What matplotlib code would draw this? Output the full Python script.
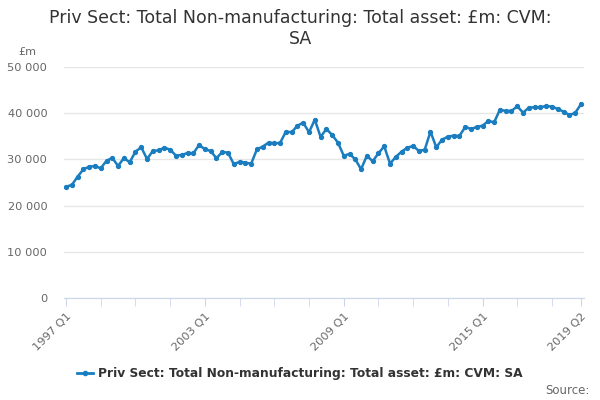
import numpy as np
import matplotlib.pyplot as plt
from matplotlib.ticker import FuncFormatter
from matplotlib.lines import Line2D

quarters = [f"{1997 + i // 4} Q{i % 4 + 1}" for i in range(90)]
values = [24100, 24460, 26260, 27860, 28430, 28580, 28070, 29730, 30310, 28580,
          30310, 29370, 31680, 32620, 30090, 31820, 31970, 32540, 32110, 30810,
          30960, 31390, 31320, 33120, 32190, 31820, 30240, 31610, 31460, 28940,
          29510, 29290, 29080, 32190, 32760, 33630, 33490, 33560, 36010, 35870,
          37300, 37950, 35870, 38600, 34860, 36590, 35290, 33630, 30810, 31180,
          30020, 27860, 30810, 29590, 31320, 32840, 29080, 30530, 31680, 32540,
          32910, 31820, 32110, 36010, 32620, 34270, 34930, 35140, 35070, 37020,
          36590, 37020, 37300, 38320, 38030, 40770, 40490, 40490, 41500, 40120,
          41200, 41280, 41280, 41570, 41420, 40920, 40340, 39620, 40050, 41930]
label_quarters = ["1997 Q1", "2003 Q1", "2009 Q1", "2015 Q1", "2019 Q2"]
series_name = "Priv Sect: Total Non-manufacturing: Total asset: £m: CVM: SA"

color = "#1a7dc0"
x = np.arange(len(values))

fig = plt.figure(figsize=(6, 4), dpi=100)
ax = fig.add_axes([0.1067, 0.255, 0.8663, 0.5775])
ax.plot(x, values, color=color, lw=1.8, marker="o", ms=2.8)

ax.set_xlim(-0.35, 89.5)
ax.set_ylim(0, 50000)
ax.set_yticks(range(0, 50001, 10000))
ax.yaxis.set_major_formatter(FuncFormatter(lambda v, p: f"{int(v):,}".replace(",", " ")))
ax.grid(axis="y", color="#e6e6e6", lw=1)
ax.set_axisbelow(True)

minor = list(range(0, 90, 6)) + [89]
ax.set_xticks(minor, minor=True)
ax.set_xticks([quarters.index(q) for q in label_quarters])
ax.set_xticklabels(label_quarters, rotation=45, ha="right", rotation_mode="anchor")
ax.tick_params(axis="x", which="both", length=6, color="#ccd6eb", labelcolor="#666666", labelsize=8.2)
ax.tick_params(axis="y", length=0, labelcolor="#666666", labelsize=8.2, pad=12)

for s in ["top", "right", "left"]:
    ax.spines[s].set_visible(False)
ax.spines["bottom"].set_color("#ccd6eb")

fig.text(0.5, 0.978, "Priv Sect: Total Non-manufacturing: Total asset: £m: CVM:\nSA",
         ha="center", va="top", fontsize=12.5, color="#333333", linespacing=1.2)
fig.text(0.03, 0.87, "£m", fontsize=8, color="#666666", va="center")

handle = Line2D([], [], color=color, lw=2, marker="o", ms=3)
fig.legend([handle], [series_name], loc="center", bbox_to_anchor=(0.5, 0.065),
           frameon=False, prop={"weight": "bold", "size": 8.8}, labelcolor="#333333",
           handlelength=1.3, handletextpad=0.4)
fig.text(0.982, 0.025, "Source:", ha="right", va="center", fontsize=8.5, color="#666666")

fig.savefig("out.png", dpi=100)
